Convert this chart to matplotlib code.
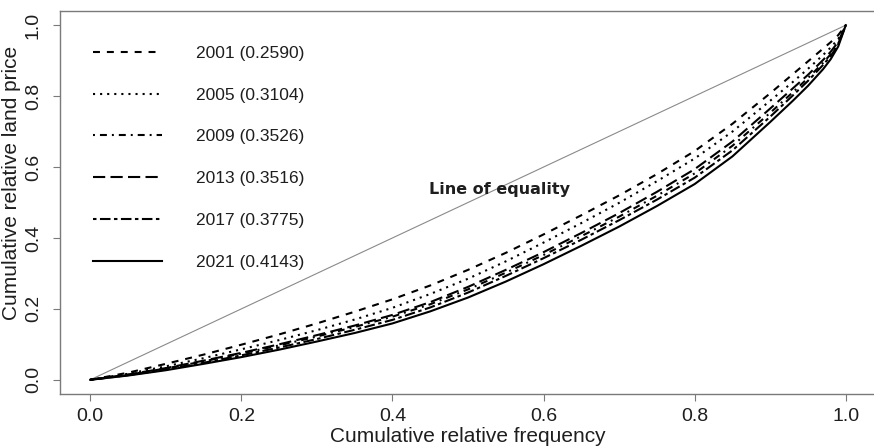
import numpy as np
import matplotlib
matplotlib.use('Agg')
import matplotlib.pyplot as plt

plt.rcParams['font.family'] = ['Liberation Sans', 'DejaVu Sans']
plt.rcParams['lines.scale_dashes'] = False

# ── Data (Lorenz curves of land price) ───
freq = [0, 0.05, 0.1, 0.15, 0.2, 0.25, 0.3, 0.35, 0.4, 0.45, 0.5, 0.55, 0.6,
        0.65, 0.7, 0.75, 0.8, 0.85, 0.9, 0.93, 0.95, 0.97, 0.98, 0.99, 1.0]

price_2001 = [0, 0.020, 0.045, 0.071, 0.099, 0.128, 0.159, 0.192, 0.227, 0.266, 0.310, 0.358, 0.410,
              0.464, 0.520, 0.580, 0.645, 0.722, 0.808, 0.862, 0.898, 0.934, 0.952, 0.972, 1.0]
price_2005 = [0, 0.017, 0.038, 0.061, 0.086, 0.112, 0.140, 0.170, 0.203, 0.242, 0.285, 0.334, 0.387,
              0.442, 0.499, 0.560, 0.624, 0.700, 0.787, 0.840, 0.877, 0.916, 0.937, 0.961, 1.0]
price_2009 = [0, 0.014, 0.032, 0.052, 0.074, 0.097, 0.122, 0.149, 0.178, 0.213, 0.255, 0.302, 0.352,
              0.405, 0.460, 0.519, 0.582, 0.660, 0.753, 0.811, 0.851, 0.894, 0.918, 0.948, 1.0]
price_2013 = [0, 0.015, 0.033, 0.054, 0.076, 0.100, 0.126, 0.153, 0.183, 0.219, 0.262, 0.310, 0.360,
              0.414, 0.470, 0.530, 0.594, 0.672, 0.765, 0.822, 0.860, 0.902, 0.925, 0.953, 1.0]
price_2017 = [0, 0.013, 0.029, 0.048, 0.069, 0.091, 0.115, 0.141, 0.169, 0.204, 0.246, 0.293, 0.343,
              0.395, 0.450, 0.508, 0.570, 0.647, 0.742, 0.802, 0.843, 0.888, 0.913, 0.945, 1.0]
price_2021 = [0, 0.012, 0.027, 0.045, 0.064, 0.085, 0.108, 0.132, 0.159, 0.193, 0.232, 0.277, 0.326,
              0.378, 0.432, 0.490, 0.552, 0.630, 0.727, 0.787, 0.829, 0.876, 0.904, 0.940, 1.0]

years = ['2001', '2005', '2009', '2013', '2017', '2021']
gini = ['0.2590', '0.3104', '0.3526', '0.3516', '0.3775', '0.4143']
series = [price_2001, price_2005, price_2009, price_2013, price_2017, price_2021]

# R-style line types: dashed, dotted, dotdash, longdash, twodash, solid
DASHES = [
    (0, (5.0, 5.0)),
    (0, (1.5, 3.6)),
    (0, (1.4, 3.6, 5.0, 3.6)),
    (0, (8.8, 3.8)),
    (0, (2.5, 2.5, 7.6, 2.5)),
    '-',
]

GREY = '#7a7a7a'
TXT = '#1e1e1e'

fig = plt.figure(figsize=(8.74, 4.48), dpi=100)
ax = fig.add_axes([60 / 874, 54 / 448, 816 / 874, 383 / 448])

ax.plot([0, 1], [0, 1], color='#8a8a8a', lw=0.8)

for yr, g, vals, ls in zip(years, gini, series, DASHES):
    ax.plot(freq, vals, color='black', lw=1.5, linestyle=ls,
            label=f'{yr} ({g})')

ax.text(0.542, 0.536, 'Line of equality', family='DejaVu Sans',
        fontweight='bold', fontsize=11.5, color=TXT,
        ha='center', va='center')

ax.set_xlim(-0.04, 1.04)
ax.set_ylim(-0.04, 1.04)
ticks = [0.0, 0.2, 0.4, 0.6, 0.8, 1.0]
ax.set_xticks(ticks)
ax.set_yticks(ticks)
ax.set_xticklabels([f'{t:.1f}' for t in ticks])
ax.set_yticklabels([f'{t:.1f}' for t in ticks], rotation=90, va='center')

ax.tick_params(axis='both', direction='out', length=5, width=0.8,
               color=GREY, labelsize=14, labelcolor=TXT)
ax.tick_params(axis='x', pad=5)
ax.tick_params(axis='y', pad=8)

for side in ['left', 'bottom', 'top']:
    ax.spines[side].set_color(GREY)
    ax.spines[side].set_linewidth(1.0)
ax.spines['right'].set_visible(False)

ax.set_xlabel('Cumulative relative frequency', fontsize=15, color=TXT)
ax.set_ylabel('Cumulative relative land price', fontsize=15, color=TXT)
ax.xaxis.set_label_coords(0.5, -0.112)
ax.yaxis.set_label_coords(-0.060, 0.55)
ax.xaxis.label.set_va('center')
ax.yaxis.label.set_va('center')

leg = ax.legend(loc='upper left', bbox_to_anchor=(0.040, 0.909),
                frameon=False, fontsize=12.5, handlelength=3.97,
                handletextpad=1.96, labelspacing=1.53, borderpad=0,
                borderaxespad=0)
for t in leg.get_texts():
    t.set_color(TXT)

fig.savefig('out.png', dpi=100, facecolor='white')
